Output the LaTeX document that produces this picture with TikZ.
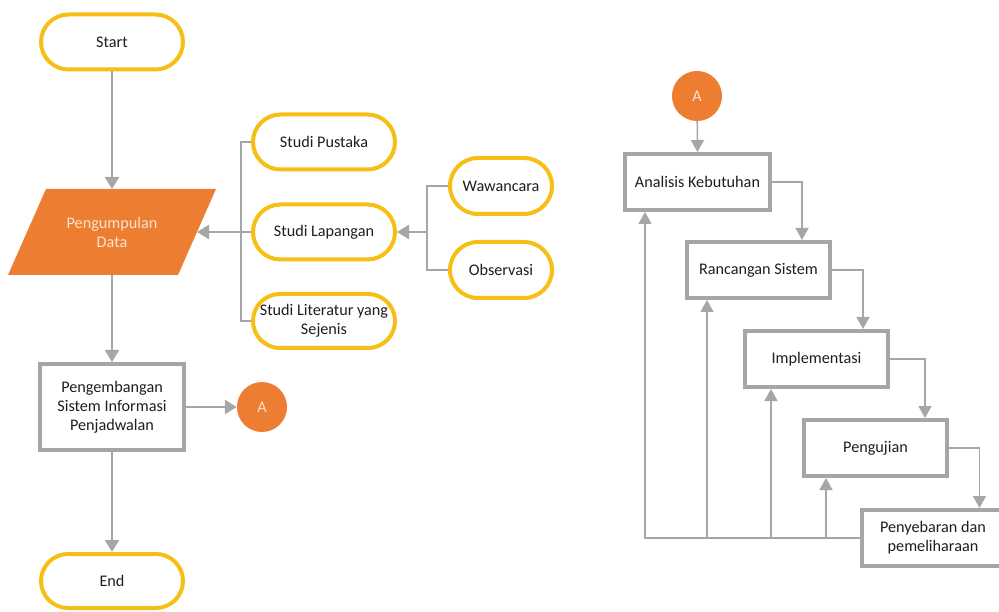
\documentclass[tikz,border=0pt]{standalone}
\usepackage{fontspec}
\setmainfont{Carlito}
\usetikzlibrary{arrows.meta,shapes.misc,calc}
\definecolor{yel}{HTML}{F7BE16}
\definecolor{gr}{HTML}{A6A6A6}
\definecolor{org}{HTML}{ED7D31}
\definecolor{txt}{HTML}{1E1E1E}
\definecolor{ltxt}{HTML}{FBE3D3}
\begin{document}
\begin{tikzpicture}[x=1pt,y=-1pt,
  every node/.style={font=\fontsize{16.2}{19}\selectfont, text=txt, align=center},
  term/.style={rounded rectangle, rounded rectangle arc length=180, draw=yel, line width=4pt, fill=white, minimum width=144pt, minimum height=55pt, inner sep=1pt},
  procbox/.style={rectangle, draw=gr, line width=4pt, fill=white, minimum width=145pt, minimum height=56pt, inner sep=1pt},
  conn/.style={circle, fill=org, minimum size=50pt, inner sep=0pt, text=ltxt},
  arr/.style={draw=gr, line width=2.5pt, -{Triangle[length=12pt,width=14pt]}},
  thinline/.style={draw=gr, line width=1.5pt},
  tarr/.style={draw=gr, line width=1.5pt, -{Triangle[length=12pt,width=13pt]}}]
\useasboundingbox (0,0) rectangle (999,612);

% left column
\node[term] (start) at (112,42) {Start};
\node[minimum width=170pt, minimum height=86pt, inner sep=0pt, outer sep=0pt] (pd) at (112,232) {};
\fill[org] ($(pd.south west)+(-19,0)$) -- ($(pd.south east)+(-19,0)$) -- ($(pd.north east)+(19,0)$) -- ($(pd.north west)+(19,0)$) -- cycle;
\node[text=ltxt] at (pd) {Pengumpulan\\Data};
\node[procbox, minimum width=144pt, minimum height=86pt] (dev) at (112,407) {Pengembangan\\Sistem Informasi\\Penjadwalan};
\node[term, minimum height=54pt] (end) at (112,581) {End};
\node[conn] (a1) at (262,407) {A};

\draw[arr] (start) -- (pd.north);
\draw[arr] (pd.south) -- (dev);
\draw[arr] (dev) -- (end);
\draw[arr] (dev) -- (a1);

% middle
\node[term] (sp) at (324,142) {Studi Pustaka};
\node[term] (sl) at (324,232) {Studi Lapangan};
\node[term, minimum height=54pt] (slit) at (324,321) {Studi Literatur yang\\Sejenis};
\node[term, minimum width=104pt, minimum height=56pt] (waw) at (501,186) {Wawancara};
\node[term, minimum width=104pt, minimum height=56pt] (obs) at (501,270) {Observasi};

\draw[thinline] (sp.west) -- ++(-10,0) |- (slit.west);
\draw[arr] (sl.west) -- (pd.east);
\draw[thinline] (waw.west) -- ++(-21,0) |- (obs.west);
\coordinate (jb) at (426,232);
\draw[arr] (jb) -- (sl.east);

% right side
\node[conn] (a2) at (697,96) {A};
\node[procbox, minimum width=145pt] (ak) at (697.5,182) {Analisis Kebutuhan};
\node[procbox, minimum width=143pt] (rs) at (758.5,270) {Rancangan Sistem};
\node[procbox, minimum width=143pt] (imp) at (816.5,359) {Implementasi};
\node[procbox, minimum width=143pt] (pen) at (875.5,448) {Pengujian};
\node[procbox, minimum width=143pt] (pp) at (933,538) {Penyebaran dan\\pemeliharaan};

\draw[tarr] (a2) -- (ak.north);
\draw[tarr] (ak.east) -| ($(rs.north east)+(-30,0)$);
\draw[tarr] (rs.east) -| ($(imp.north east)+(-27,0)$);
\draw[tarr] (imp.east) -| ($(pen.north east)+(-24,0)$);
\draw[tarr] (pen.east) -| ($(pp.north east)+(-27,0)$);

\draw[tarr] (pp.west) -| ($(ak.south west)+(22,0)$);
\draw[tarr] ($(pp.west -| rs.south west)+(22,0)$) -- ($(rs.south west)+(22,0)$);
\draw[tarr] ($(pp.west -| imp.south west)+(28,0)$) -- ($(imp.south west)+(28,0)$);
\draw[tarr] ($(pp.west -| pen.south west)+(24,0)$) -- ($(pen.south west)+(24,0)$);
\end{tikzpicture}
\end{document}
